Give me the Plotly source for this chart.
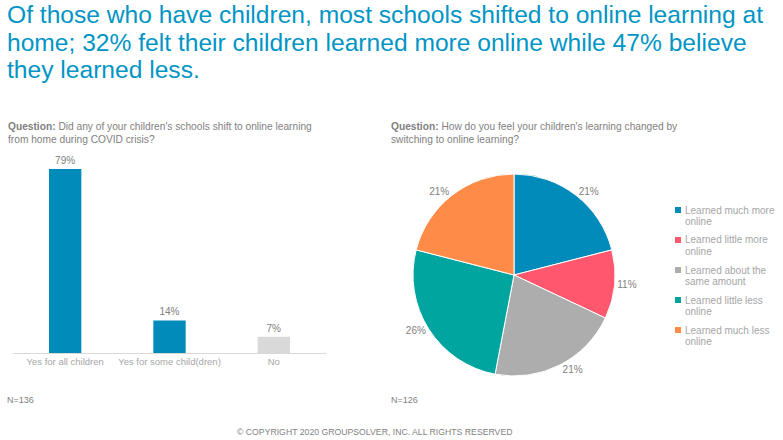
import plotly.graph_objects as go

# ---- data ----
bar_categories = ["Yes for all children", "Yes for some child(dren)", "No"]
bar_values = [79, 14, 7]
bar_colors = ["#008BBA", "#008BBA", "#D9D9D9"]

pie_labels = ["Learned much more online", "Learned little more online",
              "Learned about the same amount", "Learned little less online",
              "Learned much less online"]
pie_legend_lines = [["Learned much more", "online"], ["Learned little more", "online"],
                    ["Learned about the", "same amount"], ["Learned little less", "online"],
                    ["Learned much less", "online"]]
pie_values = [21, 11, 21, 26, 21]
pie_colors = ["#008BBA", "#FF586E", "#ADADAD", "#00A59F", "#FF8B48"]

title_lines = ["Of those who have children, most schools shifted to online learning at",
               "home; 32% felt their children learned more online while 47% believe",
               "they learned less."]
q1_lines = ["<b>Question:</b> Did any of your children's schools shift to online learning",
            "from home during COVID crisis?"]
q2_lines = ["<b>Question:</b> How do you feel your children's learning changed by",
            "switching to online learning?"]
n1 = "N=136"
n2 = "N=126"
copyright_text = "© COPYRIGHT 2020 GROUPSOLVER, INC. ALL RIGHTS RESERVED"

W, H = 783, 440
FONT = "Arial, Liberation Sans, sans-serif"


def px(x):
    return x / W


def py(y):
    return 1 - y / H


fig = go.Figure()

fig.add_trace(go.Bar(
    x=bar_categories, y=bar_values,
    marker=dict(color=bar_colors, line=dict(width=0)),
    text=[f"{v}%" for v in bar_values], textposition="outside",
    textfont=dict(family=FONT, size=10, color="#808080"),
    cliponaxis=False, width=0.31, showlegend=False, hoverinfo="skip",
    xaxis="x", yaxis="y",
))

fig.add_trace(go.Pie(
    labels=pie_labels, values=pie_values,
    marker=dict(colors=pie_colors, line=dict(color="white", width=1)),
    sort=False, direction="clockwise", rotation=0,
    textinfo="percent", texttemplate="%{percent:.0%}", textposition="outside",
    outsidetextfont=dict(family=FONT, size=10, color="#808080"),
    domain=dict(x=[px(413), px(615)], y=[py(376), py(174)]),
    showlegend=False, hoverinfo="skip",
))

ann = []
for i, line in enumerate(title_lines):
    ann.append(dict(text=line, x=px(5), y=py(15 + 27 * i), xref="paper", yref="paper",
                    xanchor="left", yanchor="middle", showarrow=False,
                    font=dict(family=FONT, size=24.6, color="#0095C5")))
for i, line in enumerate(q1_lines):
    ann.append(dict(text=line, x=px(6), y=py(126 + 13 * i), xref="paper", yref="paper",
                    xanchor="left", yanchor="middle", showarrow=False,
                    font=dict(family=FONT, size=10.2, color="#7F7F7F")))
for i, line in enumerate(q2_lines):
    ann.append(dict(text=line, x=px(389), y=py(126 + 13 * i), xref="paper", yref="paper",
                    xanchor="left", yanchor="middle", showarrow=False,
                    font=dict(family=FONT, size=10.2, color="#7F7F7F")))
ann.append(dict(text=n1, x=px(5), y=py(400), xref="paper", yref="paper",
                xanchor="left", yanchor="middle", showarrow=False,
                font=dict(family=FONT, size=9, color="#7F7F7F")))
ann.append(dict(text=n2, x=px(389), y=py(400), xref="paper", yref="paper",
                xanchor="left", yanchor="middle", showarrow=False,
                font=dict(family=FONT, size=9, color="#7F7F7F")))
ann.append(dict(text=copyright_text, x=px(374.5), y=py(432), xref="paper", yref="paper",
                xanchor="center", yanchor="middle", showarrow=False,
                font=dict(family=FONT, size=8.7, color="#7F7F7F")))

shapes = []
for i, (lines, col) in enumerate(zip(pie_legend_lines, pie_colors)):
    y0 = 210 + 30 * i
    shapes.append(dict(type="rect", xref="paper", yref="paper",
                       x0=px(675), x1=px(681), y0=py(y0 - 3), y1=py(y0 + 3),
                       fillcolor=col, line=dict(width=0)))
    for j, t in enumerate(lines):
        ann.append(dict(text=t, x=px(683), y=py(y0 + 11 * j), xref="paper", yref="paper",
                        xanchor="left", yanchor="middle", showarrow=False,
                        font=dict(family=FONT, size=10, color="#A6A6A6")))

fig.update_layout(
    width=W, height=H, margin=dict(l=0, r=0, t=0, b=0),
    paper_bgcolor="white", plot_bgcolor="white",
    bargap=0.69,
    xaxis=dict(domain=[px(13), px(326)], showgrid=False, zeroline=False,
               showline=True, linecolor="#D9D9D9", linewidth=1, ticks="",
               tickfont=dict(family=FONT, size=9.5, color="#A6A6A6"), fixedrange=True),
    yaxis=dict(domain=[py(353), py(160)], range=[0, 82.9], visible=False, fixedrange=True),
    annotations=ann, shapes=shapes,
    font=dict(family=FONT),
)

fig.write_html("out.html")
